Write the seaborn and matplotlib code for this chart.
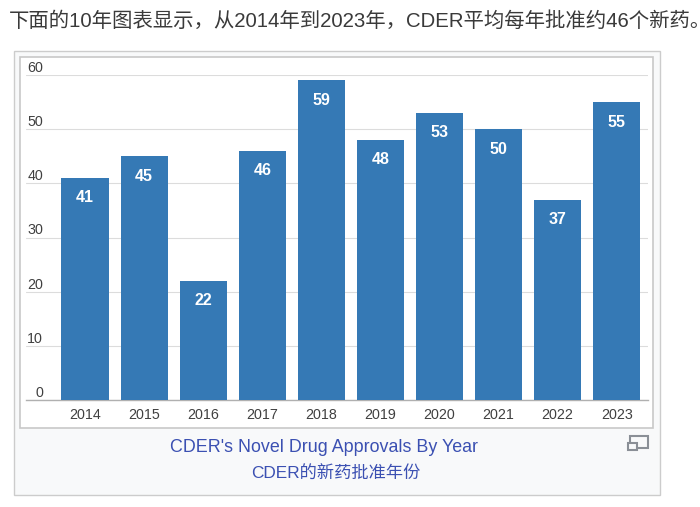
import matplotlib
matplotlib.use('Agg')
import matplotlib.pyplot as plt
from matplotlib.patches import Rectangle
import seaborn as sns

# Values
years = ['2014', '2015', '2016', '2017', '2018', '2019', '2020', '2021', '2022', '2023']
approvals = [41, 45, 22, 46, 59, 48, 53, 50, 37, 55]
y_ticks = [0, 10, 20, 30, 40, 50, 60]

intro_text = '下面的10年图表显示，从2014年到2023年，CDER平均每年批准约46个新药。'
caption_en = "CDER's Novel Drug Approvals By Year"
caption_zh = 'CDER的新药批准年份'

W, H = 700, 507

sns.set_theme(style='white')
plt.rcParams['font.family'] = ['Liberation Sans', 'Noto Sans CJK SC', 'DejaVu Sans']

fig = plt.figure(figsize=(W / 100, H / 100), dpi=100, facecolor='white')


# pixel box (top-left origin) to figure coords
def box(x0, y0, x1, y1, **kw):
    r = Rectangle((x0 / W, 1 - y1 / H), (x1 - x0) / W, (y1 - y0) / H,
                  transform=fig.transFigure, **kw)
    fig.add_artist(r)
    return r


# thumbnail frame and inner image frame
box(13.5, 50.5, 659.5, 494.5, facecolor='#f8f9fa', edgecolor='#cccccc', linewidth=1)
box(20, 56.5, 653, 428, facecolor='white', edgecolor='#c8c8c8', linewidth=1.2)

ax = fig.add_axes([26 / W, 1 - 400 / H, 622 / W, 325 / H])
ax.set_zorder(5)
ax.patch.set_alpha(0)
sns.barplot(x=years, y=approvals, color='#3579b5', saturation=1, width=0.8, ax=ax,
            zorder=3, linewidth=0)

ax.set_xlim(-1, 9.53)
ax.set_ylim(0, 60)
ax.set_yticks(y_ticks)
ax.grid(axis='y', color='#dcdcdc', linewidth=0.8, zorder=0)
ax.set_axisbelow(True)
sns.despine(ax=ax, left=True, top=True, right=True)
ax.spines['bottom'].set_color('#b0b0b0')
ax.spines['bottom'].set_linewidth(1)
ax.tick_params(axis='x', length=0, pad=5.5, labelsize=10.3, labelcolor='#404040')
ax.tick_params(axis='y', length=0, pad=-12.2, labelsize=10.3, labelcolor='#404040')
for lab in ax.get_yticklabels():
    lab.set_verticalalignment('bottom')
    lab.set_horizontalalignment('right')

for i, v in enumerate(approvals):
    ax.annotate(str(v), (i, v), xytext=(0, -20), textcoords='offset pixels',
                ha='center', va='center', color='white', fontsize=11.5, fontweight='bold',
                zorder=5)

fig.text(9 / W, 1 - 21 / H, intro_text, fontsize=14.7, color='#3a3a3a', va='center', ha='left')
fig.text(324 / W, 1 - 448 / H, caption_en, fontsize=12.9, color='#3b50b2', va='center', ha='center')
fig.text(336 / W, 1 - 474 / H, caption_zh, fontsize=12.4, color='#3b50b2', va='center', ha='center')

# enlarge icon
box(630, 435.5, 648, 447.5, facecolor='none', edgecolor='#8a8f96', linewidth=1.5)
box(627.5, 443, 637, 450, facecolor='#f8f9fa', edgecolor='#8a8f96', linewidth=1.5)

fig.savefig('out.png', dpi=100)
